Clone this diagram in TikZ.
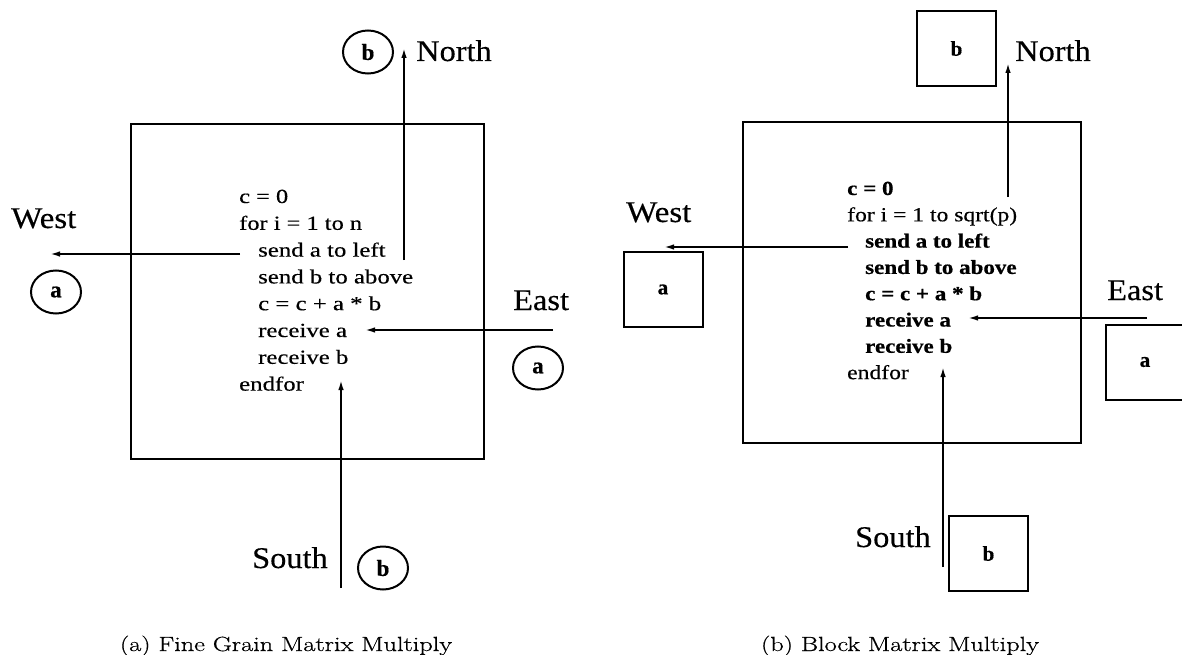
\documentclass[tikz,border=0pt]{standalone}
\usepackage{fontspec}
\setmainfont{Liberation Serif}[UprightFeatures={FakeBold=0.35}, BoldFeatures={FakeBold=0.5}]
\newfontfamily\capfont{Latin Modern Roman}[UprightFeatures={FakeBold=0.6}]
\usetikzlibrary{arrows.meta,shapes.geometric}
\newcommand{\hs}[2]{\scalebox{#1}[1]{#2}}
\tikzset{
  frame/.style={draw, line width=2.3pt},
  arr/.style={line width=1.8pt, -{Latex[length=10pt,width=5.5pt]}},
  dirtxt/.style={inner sep=0pt, font=\fontsize{30}{30}\selectfont},
  codetxt/.style={inner sep=0pt, anchor=base west, font=\fontsize{20}{20}\selectfont},
  oval/.style={draw, ellipse, line width=2pt, minimum width=50pt, minimum height=43pt, inner sep=0pt, font=\fontsize{23}{23}\selectfont\bfseries},
  blk/.style={draw, rectangle, line width=2pt, minimum width=79pt, minimum height=75pt, inner sep=0pt, font=\fontsize{21}{21}\selectfont\bfseries},
  captxt/.style={inner sep=0pt, anchor=base, font=\capfont\fontsize{20.5}{20.5}\selectfont}
}
\begin{document}
\begin{tikzpicture}[x=1pt,y=-1pt]
\useasboundingbox (0,0) rectangle (1182,655);
\clip (0,0) rectangle (1182,655);
% ---------------- left panel ----------------
\node[frame, rectangle, minimum width=353pt, minimum height=335pt, inner sep=0pt] (boxL) at (307.5,291.5) {};
\node[codetxt] (l1) at (239,203) {\hs{1.22}{c = 0}};
\node[codetxt] (l2) at (239,229.8) {\hs{1.22}{for i = 1 to n}};
\node[codetxt] (l3) at (258,256.6) {\hs{1.24}{send a to left}};
\node[codetxt] (l4) at (258,283.4) {\hs{1.24}{send b to above}};
\node[codetxt] (l5) at (258,310.2) {\hs{1.24}{c = c + a * b}};
\node[codetxt] (l6) at (258,337) {\hs{1.24}{receive a}};
\node[codetxt] (l7) at (258,363.8) {\hs{1.24}{receive b}};
\node[codetxt] (l8) at (239,390.6) {\hs{1.24}{endfor}};
\node[oval] (bNL) at (368,52) {b};
\node[oval] (aWL) at (56,292) {a};
\node[oval] (aEL) at (538,368) {a};
\node[oval] (bSL) at (383,568) {b};
\node[dirtxt, anchor=base west] (northL) at (416,61) {\hs{1.08}{North}};
\node[dirtxt, anchor=base west] (westL) at (11,228) {\hs{1.1}{West}};
\node[dirtxt, anchor=base west] (eastL) at (513,310) {\hs{1.08}{East}};
\node[dirtxt, anchor=base east] (southL) at (328,568) {\hs{1.08}{South}};
\coordinate (nL0) at (404,260);
\coordinate (nL1) at (404,48);
\coordinate (wL0) at (240,254);
\coordinate (wL1) at (50,254);
\coordinate (eL0) at (553,330);
\coordinate (eL1) at (365,330);
\coordinate (sL0) at (341,588);
\coordinate (sL1) at (341,380);
\draw[arr] (nL0) -- (nL1);
\draw[arr] (wL0) -- (wL1);
\draw[arr] (eL0) -- (eL1);
\draw[arr] (sL0) -- (sL1);
\node[captxt] (capL) at (286,651) {\hs{1.28}{(a) Fine Grain Matrix Multiply}};
% ---------------- right panel ----------------
\node[frame, rectangle, minimum width=338pt, minimum height=321pt, inner sep=0pt] (boxR) at (912,282.5) {};
\node[codetxt] (r1) at (847,195) {\hs{1.15}{\bfseries c = 0}};
\node[codetxt] (r2) at (847,221.3) {\hs{1.18}{for i = 1 to sqrt(p)}};
\node[codetxt] (r3) at (865,247.6) {\hs{1.15}{\bfseries send a to left}};
\node[codetxt] (r4) at (865,273.9) {\hs{1.15}{\bfseries send b to above}};
\node[codetxt] (r5) at (865,300.2) {\hs{1.15}{\bfseries c = c + a * b}};
\node[codetxt] (r6) at (865,326.5) {\hs{1.15}{\bfseries receive a}};
\node[codetxt] (r7) at (865,352.8) {\hs{1.15}{\bfseries receive b}};
\node[codetxt] (r8) at (847,379.1) {\hs{1.18}{endfor}};
\node[blk] (bNR) at (956.5,48.5) {b};
\node[blk] (aWR) at (663,289.5) {a};
\node[blk] (aER) at (1145,362) {a};
\node[blk] (bSR) at (988.5,553.5) {b};
\node[dirtxt, anchor=base west] (northR) at (1015,61) {\hs{1.08}{North}};
\node[dirtxt, anchor=base west] (westR) at (626,222) {\hs{1.1}{West}};
\node[dirtxt, anchor=base west] (eastR) at (1107,300) {\hs{1.08}{East}};
\node[dirtxt, anchor=base east] (southR) at (931,547) {\hs{1.08}{South}};
\coordinate (nR0) at (1008,197);
\coordinate (nR1) at (1008,63);
\coordinate (wR0) at (848,247);
\coordinate (wR1) at (664,247);
\coordinate (eR0) at (1147,318);
\coordinate (eR1) at (968,318);
\coordinate (sR0) at (943,567);
\coordinate (sR1) at (943,367);
\draw[arr] (nR0) -- (nR1);
\draw[arr] (wR0) -- (wR1);
\draw[arr] (eR0) -- (eR1);
\draw[arr] (sR0) -- (sR1);
\node[captxt] (capR) at (900,651) {\hs{1.28}{(b) Block Matrix Multiply}};
\end{tikzpicture}
\end{document}
